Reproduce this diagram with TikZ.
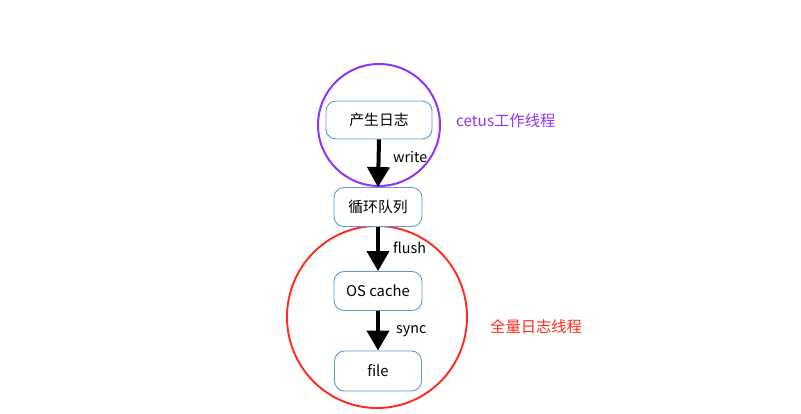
\documentclass[tikz,border=0pt]{standalone}
\usepackage{fontspec}
\setmainfont{Noto Sans CJK SC}
\usetikzlibrary{arrows.meta}
\definecolor{boxblue}{HTML}{5B9BD5}
\definecolor{cpurple}{HTML}{9333F5}
\definecolor{cred}{HTML}{FF2A1A}
\tikzset{
  stepbox/.style={draw=boxblue, line width=0.9pt, rounded corners=10pt, fill=white, inner sep=0pt, font=\fontsize{14.8}{16}\selectfont},
  flowarrow/.style={line width=4pt, -{Triangle[width=22pt,length=20pt]}, black},
  lbl/.style={font=\fontsize{14.3}{16}\selectfont, anchor=west, inner sep=0pt},
}
\begin{document}
\begin{tikzpicture}[x=1pt,y=-1pt]
\useasboundingbox (0,0) rectangle (801,413);
\draw[cpurple, line width=2pt] (379,125) circle [radius=61];
\draw[cred, line width=1.9pt] (377,317) ellipse [x radius=90, y radius=91];
\node[stepbox, minimum width=106pt, minimum height=38pt] (a) at (379,120) {产生日志};
\node[stepbox, minimum width=88pt, minimum height=39pt] (b) at (378,207) {循环队列};
\node[stepbox, minimum width=88pt, minimum height=39pt] (c) at (378,291) {OS cache};
\node[stepbox, minimum width=87pt, minimum height=40pt] (d) at (378,371) {file};
\draw[flowarrow] (a.south) -- (b.north);
\draw[flowarrow] (b.south) -- (c.north);
\draw[flowarrow] (c.south) -- (d.north);
\node[lbl] (w) at (393,157) {write};
\node[lbl] (f) at (393,248) {flush};
\node[lbl] (s) at (396,331) {sync};
\node[lbl, text=cpurple, font=\fontsize{15.3}{16}\selectfont] (t1) at (456,121) {cetus工作线程};
\node[lbl, text=cred, font=\fontsize{15.3}{16}\selectfont] (t2) at (490,327) {全量日志线程};
\end{tikzpicture}
\end{document}
